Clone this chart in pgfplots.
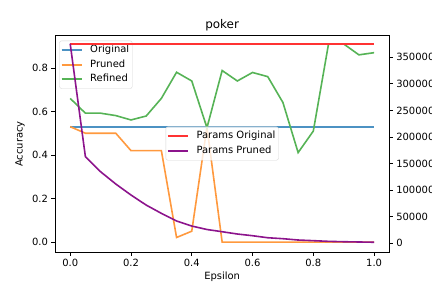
\documentclass[border=0pt]{standalone}
\usepackage{pgfplots}
\pgfplotsset{compat=1.18}
\usepackage{fontspec}
\setmainfont{DejaVu Sans}
\definecolor{cblue}{RGB}{76,146,195}
\definecolor{corange}{RGB}{255,153,62}
\definecolor{cgreen}{RGB}{86,179,86}
\definecolor{cred}{RGB}{255,51,51}
\definecolor{cpurple}{RGB}{140,20,140}
\definecolor{lframe}{RGB}{214,214,214}
\pgfplotstableread{
x orig pruned refined porig ppruned
0.00 0.53 0.530 0.660 375600 375600
0.05 0.53 0.500 0.592 375600 163000
0.10 0.53 0.500 0.592 375600 134700
0.15 0.53 0.500 0.581 375600 111600
0.20 0.53 0.420 0.561 375600 90900
0.25 0.53 0.420 0.579 375600 72000
0.30 0.53 0.420 0.660 375600 56400
0.35 0.53 0.021 0.780 375600 42000
0.40 0.53 0.050 0.740 375600 32500
0.45 0.53 0.528 0.525 375600 26000
0.50 0.53 0.000 0.788 375600 21800
0.55 0.53 0.000 0.740 375600 17500
0.60 0.53 0.000 0.779 375600 14300
0.65 0.53 0.000 0.760 375600 10500
0.70 0.53 0.000 0.641 375600 8700
0.75 0.53 0.000 0.411 375600 6200
0.80 0.53 0.000 0.510 375600 5000
0.85 0.53 0.000 0.910 375600 3700
0.90 0.53 0.000 0.910 375600 3000
0.95 0.53 0.000 0.860 375600 2500
1.00 0.53 0.000 0.870 375600 2000
}\data
\pgfplotsset{
  legend image code/.code={\draw[#1, line width=2bp] (0bp,0bp) -- (20bp,0bp);},
  every axis title/.style={at={(axis description cs:0.5,1.0494)}, anchor=center, font=\fontsize{12}{14}\selectfont},
  every axis x label/.style={at={(axis description cs:0.5,-0.114)}, anchor=center, font=\fontsize{10}{12}\selectfont},
  every axis y label/.style={at={(axis description cs:-0.1047,0.5)}, anchor=center, rotate=90, font=\fontsize{10}{12}\selectfont},
  every axis/.append style={
    at={(55bp,35.7bp)}, anchor=south west, scale only axis,
    width=334.3bp, height=216.6bp,
    xmin=-0.05, xmax=1.05,
    tick align=outside, major tick length=3.5bp,
    major tick style={black, line width=0.8bp},
    axis line style={black, line width=0.8bp},
    tick label style={font=\fontsize{10}{12}\selectfont},
    /pgf/number format/assume math mode=true,
    legend cell align=left,
    legend style={draw=lframe, rounded corners=2bp, fill=white, fill opacity=0.8, text opacity=1,
      font=\fontsize{10}{12}\selectfont, inner xsep=1bp, inner ysep=3.5bp, row sep=2.3bp,
      nodes={inner xsep=2bp, inner ysep=1bp, text height=7.5bp, text depth=2.5bp},
      /tikz/every odd column/.append style={column sep=5.7bp}},
  },
}
\begin{document}
\begin{tikzpicture}
\useasboundingbox (0,0) rectangle (432bp,288bp);
\begin{axis}[
  ymin=-0.047, ymax=0.948,
  xtick={0,0.2,0.4,0.6,0.8,1.0},
  ytick={0,0.2,0.4,0.6,0.8},
  xtick pos=bottom, ytick pos=left,
  xticklabel style={/pgf/number format/.cd, fixed, fixed zerofill, precision=1},
  yticklabel style={/pgf/number format/.cd, fixed, fixed zerofill, precision=1},
  xlabel={Epsilon}, ylabel={Accuracy},
  title={poker},
  legend style={at={(rel axis cs:0.013,0.977)}, anchor=north west},
]
\addplot[color=cblue, line width=2bp] table[x=x, y=orig] {\data};
\addlegendentry{Original}
\addplot[color=corange, line width=1.6bp] table[x=x, y=pruned] {\data};
\addlegendentry{Pruned}
\addplot[color=cgreen, line width=1.6bp] table[x=x, y=refined] {\data};
\addlegendentry{Refined}
\end{axis}
\begin{axis}[
  ymin=-16900, ymax=390700,
  axis x line=none, axis y line*=right,
  ytick={0,50000,100000,150000,200000,250000,300000,350000},
  scaled y ticks=false,
  yticklabel style={/pgf/number format/.cd, fixed, 1000 sep={}},
  legend style={at={(rel axis cs:0.5,0.502)}, anchor=center},
]
\addplot[color=cred, line width=2bp] table[x=x, y=porig] {\data};
\addlegendentry{Params Original}
\addplot[color=cpurple, line width=1.6bp] table[x=x, y=ppruned] {\data};
\addlegendentry{Params Pruned}
\end{axis}
\end{tikzpicture}
\end{document}
